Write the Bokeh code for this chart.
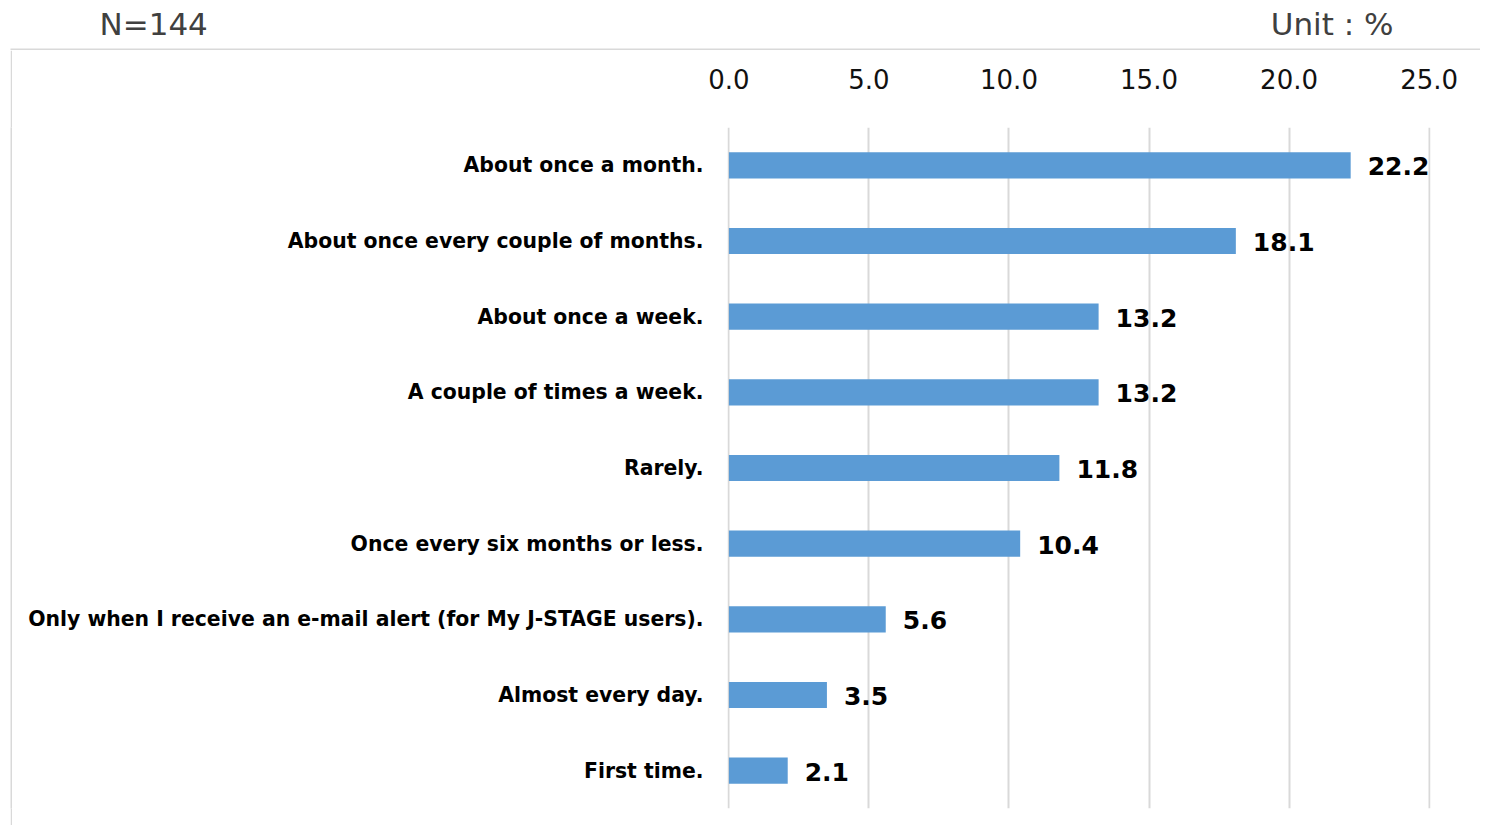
from bokeh.plotting import figure
from bokeh.layouts import column, row
from bokeh.models import (ColumnDataSource, Range1d, FactorRange, FixedTicker,
                          NumeralTickFormatter, Label, BoxAnnotation, Spacer)
from bokeh.core.properties import value
from bokeh.embed import file_html
from bokeh.resources import INLINE

categories = [
    "About once a month.",
    "About once every couple of months.",
    "About once a week.",
    "A couple of times a week.",
    "Rarely.",
    "Once every six months or less.",
    "Only when I receive an e-mail alert (for My J-STAGE users).",
    "Almost every day.",
    "First time.",
]
values = [22.2, 18.1, 13.2, 13.2, 11.8, 10.4, 5.6, 3.5, 2.1]
x_ticks = [0, 5, 10, 15, 20, 25]
sample_label = "N=144"
unit_label = "Unit : %"

FONT = "DejaVu Sans"
GRAY = "#d9d9d9"

TOTAL_W = 1480
HEAD_H = 50
MAIN_H = 775

# ---------- header (N and unit, top border line) ----------
head = figure(width=TOTAL_W, height=HEAD_H,
              x_range=Range1d(0, TOTAL_W), y_range=Range1d(HEAD_H, 0),
              x_axis_type=None, y_axis_type=None,
              output_backend="svg", toolbar_location=None,
              min_border=0)
head.outline_line_color = None
head.grid.visible = False
head.add_layout(BoxAnnotation(left=10, right=TOTAL_W, top=48, bottom=HEAD_H,
                              fill_color=GRAY, fill_alpha=1, line_color=None))
head.add_layout(Label(x=99, y=23, text=sample_label, text_font=FONT,
                      text_font_size="31px", text_color="#404040",
                      text_align="left", text_baseline="middle"))
head.add_layout(Label(x=1393, y=23, text=unit_label, text_font=FONT,
                      text_font_size="31px", text_color="#404040",
                      text_align="right", text_baseline="middle"))

# ---------- left border line ----------
edge = figure(width=2, height=MAIN_H, x_axis_type=None, y_axis_type=None,
              output_backend="svg", toolbar_location=None, min_border=0)
edge.outline_line_color = None
edge.grid.visible = False
edge.background_fill_color = GRAY
edge.border_fill_color = GRAY

# ---------- main chart ----------
src = ColumnDataSource(dict(
    cat=categories,
    val=values,
    txt=[f"{v:.1f}" for v in values],
))

MAIN_W = TOTAL_W - 12
FRAME_L = 715
FRAME_W = 703
p = figure(
    width=MAIN_W, height=MAIN_H,
    y_range=FactorRange(factors=list(reversed(categories))),
    x_range=Range1d(-0.05, 25.05),
    x_axis_location="above",
    output_backend="svg",
    toolbar_location=None,
    min_border_left=FRAME_L, min_border_right=MAIN_W - FRAME_L - FRAME_W,
    min_border_top=77, min_border_bottom=17,
)
p.outline_line_color = None
p.background_fill_color = "white"
p.border_fill_color = "white"

p.hbar(y="cat", right="val", left=0, height=0.345, source=src,
       fill_color="#5b9bd5", line_color=None, level="overlay")

p.text(x="val", y="cat", text="txt", source=src, x_offset=17, y_offset=1,
       text_align="left", text_baseline="middle",
       text_font=value(FONT), text_font_style="bold",
       text_font_size="25px", text_color="#000000")

xa = p.xaxis[0]
xa.ticker = FixedTicker(ticks=x_ticks)
xa.formatter = NumeralTickFormatter(format="0.0")
xa.axis_line_color = None
xa.major_tick_line_color = None
xa.minor_tick_line_color = None
xa.major_label_text_font = FONT
xa.major_label_text_font_size = "26px"
xa.major_label_text_color = "#111111"
xa.major_label_standoff = 33

ya = p.yaxis[0]
ya.axis_line_color = None
ya.major_tick_line_color = None
ya.minor_tick_line_color = None
ya.major_label_text_font = FONT
ya.major_label_text_font_style = "bold"
ya.major_label_text_font_size = "20.4px"
ya.major_label_text_color = "#000000"
ya.major_label_standoff = 18

p.xgrid.grid_line_color = GRAY
p.xgrid.grid_line_width = 2
p.ygrid.grid_line_color = None

layout = column(head, row(Spacer(width=10, height=MAIN_H), edge, p, spacing=0), spacing=0)

open("out.html", "w").write(file_html(layout, INLINE))
